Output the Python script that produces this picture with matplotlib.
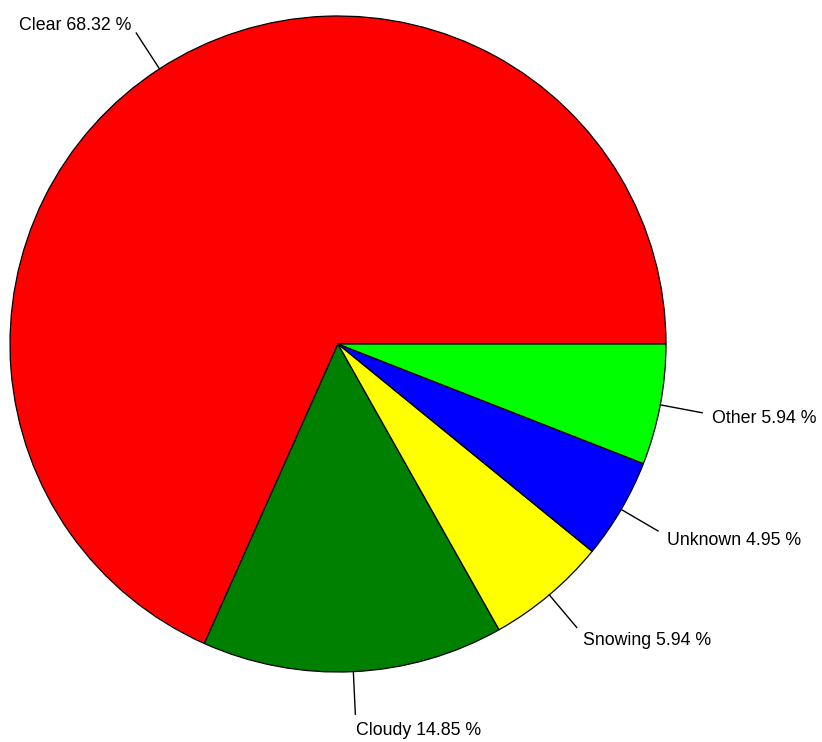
import numpy as np
import matplotlib
matplotlib.use("Agg")
import matplotlib.pyplot as plt

categories = ["Clear", "Cloudy", "Snowing", "Unknown", "Other"]
percentages = [68.32, 14.85, 5.94, 4.95, 5.94]
colors = ["#FF0000", "#008000", "#FFFF00", "#0000FF", "#00FF00"]

plt.rcParams['font.family'] = ['Liberation Sans', 'DejaVu Sans']

fig = plt.figure(figsize=(8.22, 7.42), dpi=100)
ax = fig.add_axes([0, 0, 1, 1])

cx, cy, r = 338, 398, 328
wedges, _ = ax.pie(percentages, colors=colors, startangle=0, counterclock=True,
                   radius=r, center=(cx, cy), frame=True,
                   wedgeprops=dict(edgecolor='black', linewidth=0.9))
ax.set_xlim(0, 822)
ax.set_ylim(0, 742)
ax.set_aspect('equal')
ax.axis('off')

cum = np.cumsum([0] + percentages)
for i, (cat, p) in enumerate(zip(categories, percentages)):
    mid = np.deg2rad((cum[i] + cum[i + 1]) / 2 / 100 * 360)
    c, s = np.cos(mid), np.sin(mid)
    ax.plot([cx + r * c, cx + 1.13 * r * c], [cy + r * s, cy + 1.13 * r * s],
            color='black', linewidth=1.0)
    ax.text(cx + 1.16 * r * c, cy + 1.17 * r * s - 3,
            f"{cat} {p:.2f} %",
            ha='left' if c > 0 else 'right', va='center', fontsize=12.8,
            color='black')

fig.savefig("out.png", dpi=100)
